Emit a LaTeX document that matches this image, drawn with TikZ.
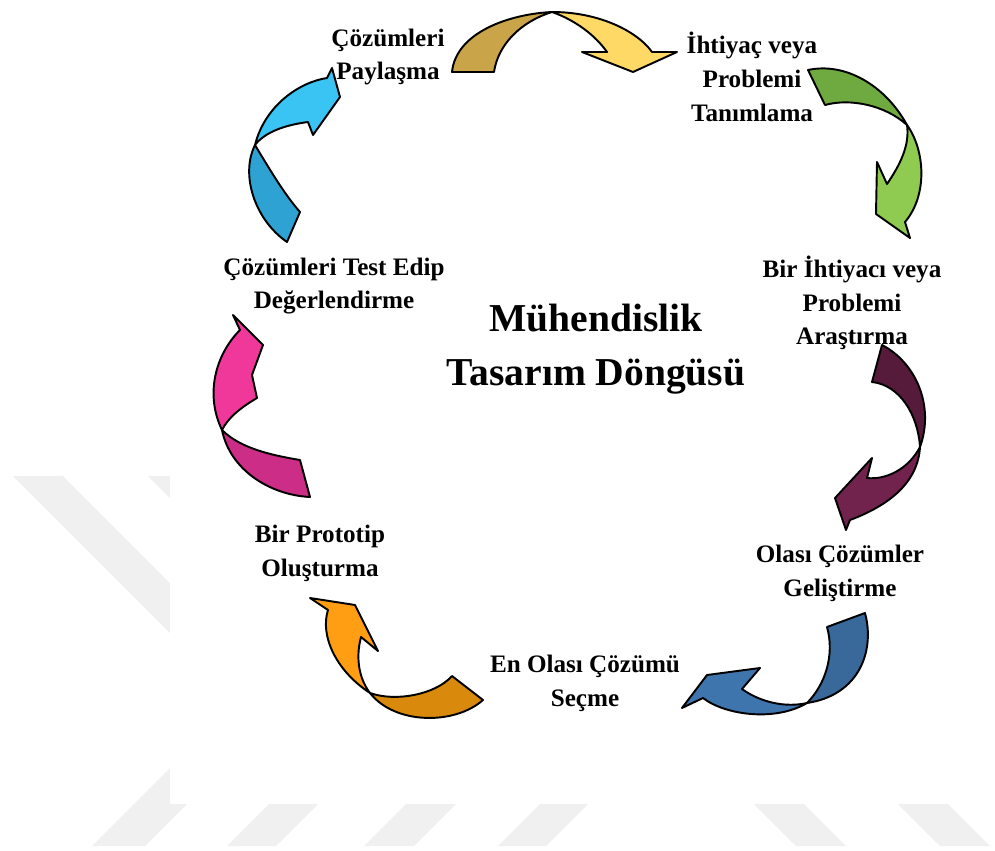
\documentclass[tikz,border=0pt]{standalone}
\usepackage{fontspec}
\setmainfont{Liberation Serif}

\definecolor{goldtail}{HTML}{C9A449}
\definecolor{goldhead}{HTML}{FFD966}
\definecolor{greentail}{HTML}{6FAA40}
\definecolor{greenhead}{HTML}{8FCB51}
\definecolor{plumtail}{HTML}{561A3B}
\definecolor{plumhead}{HTML}{71234E}
\definecolor{steeltail}{HTML}{38699A}
\definecolor{steelhead}{HTML}{3F75AD}
\definecolor{orangetail}{HTML}{D98A0C}
\definecolor{orangehead}{HTML}{FF9E12}
\definecolor{pinktail}{HTML}{CC2D86}
\definecolor{pinkhead}{HTML}{F0389B}
\definecolor{skytail}{HTML}{2EA2D3}
\definecolor{skyhead}{HTML}{3AC4F4}
\definecolor{wmgray}{HTML}{F0F0F0}

\tikzset{
  ribbon/.style={draw=black, line width=1.1pt, line join=round},
  lbl/.style={font=\fontsize{14.3}{19.2}\selectfont\bfseries, align=center},
  ttl/.style={font=\fontsize{22.5}{30.7}\selectfont\bfseries, align=center}
}

\begin{document}
\begin{tikzpicture}[x=0.2mm, y=-0.2mm]
% pixel grid of the page, y pointing down
  \useasboundingbox (0,0) rectangle (995,851);

% watermark stripes, then the white sheet over them
  \fill[wmgray] (13,476) -- (63,476) -- (230,643) -- (180,643) -- cycle;
  \fill[wmgray] (148,476) -- (198,476) -- (298,576) -- (248,576) -- cycle;
  \fill[wmgray] (92,846) -- (145,846) -- (231,760) -- (178,760) -- cycle;
  \fill[wmgray] (227,846) -- (276,846) -- (318,804) -- (269,804) -- cycle;
  \fill[wmgray] (364,846) -- (414,846) -- (456,804) -- (406,804) -- cycle;
  \fill[wmgray] (498,846) -- (546,846) -- (588,804) -- (540,804) -- cycle;
  \fill[wmgray] (754,804) -- (804,804) -- (846,846) -- (796,846) -- cycle;
  \fill[wmgray] (898,804) -- (948,804) -- (990,846) -- (940,846) -- cycle;
  \fill[white] (170,0) rectangle (995,804);

% top arrow (gold)
  \filldraw[ribbon, fill=goldtail] (552,12) .. controls (510,14) and (456,32) .. (452,72)
        -- (494,72) .. controls (498,45) and (520,22) .. (552,12) -- cycle;
  \filldraw[ribbon, fill=goldhead] (552,12) .. controls (600,12) and (638,32) .. (652,52)
        -- (677,52) -- (633,72) -- (582,52) -- (607,52) .. controls (595,35) and (575,20) .. (552,12) -- cycle;

% right upper arrow (green)
  \filldraw[ribbon, fill=greentail] (808,70) .. controls (845,62) and (885,85) .. (907,125)
        .. controls (885,105) and (850,98) .. (825,105) -- cycle;
  \filldraw[ribbon, fill=greenhead] (907,125) .. controls (925,150) and (928,195) .. (905,222)
        -- (910,238) -- (876,214) -- (877,162) -- (887,184) .. controls (900,165) and (910,145) .. (907,125) -- cycle;

% right arrow (plum)
  \filldraw[ribbon, fill=plumtail] (882,345) .. controls (915,362) and (935,405) .. (920,447)
        .. controls (918,415) and (900,385) .. (872,382) -- cycle;
  \filldraw[ribbon, fill=plumhead] (920,447) .. controls (908,470) and (885,480) .. (867,478)
        -- (872,458) -- (835,498) -- (846,530) -- (850,520) .. controls (890,505) and (918,482) .. (920,447) -- cycle;

% bottom right arrow (steel blue)
  \filldraw[ribbon, fill=steeltail] (865,613) .. controls (875,650) and (860,695) .. (807,703)
        .. controls (825,685) and (835,655) .. (827,627) -- cycle;
  \filldraw[ribbon, fill=steelhead] (807,703) .. controls (785,708) and (760,702) .. (742,689)
        -- (760,668) -- (707,675) -- (682,708) -- (703,698) .. controls (725,715) and (775,722) .. (807,703) -- cycle;

% bottom left arrow (orange)
  \filldraw[ribbon, fill=orangetail] (370,693) .. controls (395,702) and (435,695) .. (452,676)
        -- (483,700) .. controls (455,725) and (395,725) .. (370,693) -- cycle;
  \filldraw[ribbon, fill=orangehead] (370,693) .. controls (335,670) and (320,635) .. (328,610)
        -- (310,598) -- (355,605) -- (378,651) -- (361,637) .. controls (355,660) and (360,680) .. (370,693) -- cycle;

% left arrow (pink)
  \filldraw[ribbon, fill=pinktail] (222,430) .. controls (240,448) and (270,455) .. (300,460)
        -- (310,497) .. controls (270,495) and (230,470) .. (222,430) -- cycle;
  \filldraw[ribbon, fill=pinkhead] (222,430) .. controls (205,395) and (215,355) .. (240,330)
        -- (233,315) -- (263,345) -- (252,375) -- (257,398) .. controls (240,408) and (228,418) .. (222,430) -- cycle;

% upper left arrow (sky blue)
  \filldraw[ribbon, fill=skytail] (255,145) .. controls (240,175) and (255,220) .. (287,242)
        -- (300,212) .. controls (285,195) and (270,170) .. (255,145) -- cycle;
  \filldraw[ribbon, fill=skyhead] (255,145) .. controls (265,105) and (300,82) .. (327,78)
        -- (332,68) -- (340,97) -- (313,135) -- (308,122) .. controls (285,125) and (265,132) .. (255,145) -- cycle;

% step labels
  \node[lbl] (share)    at (388,57)  {Çözümleri\\Paylaşma};
  \node[lbl] (define)   at (752,77)  {İhtiyaç veya\\Problemi\\Tanımlama};
  \node[lbl] (research) at (852,303) {Bir İhtiyacı veya\\Problemi\\Araştırma};
  \node[lbl] (develop)  at (840,573) {Olası Çözümler\\Geliştirme};
  \node[lbl] (select)   at (585,683) {En Olası Çözümü\\Seçme};
  \node[lbl] (proto)    at (320,553) {Bir Prototip\\Oluşturma};
  \node[lbl] (test)     at (334,286) {Çözümleri Test Edip\\Değerlendirme};

% title
  \node[ttl] (title) at (596,349) {Mühendislik\\Tasarım Döngüsü};

\end{tikzpicture}
\end{document}
